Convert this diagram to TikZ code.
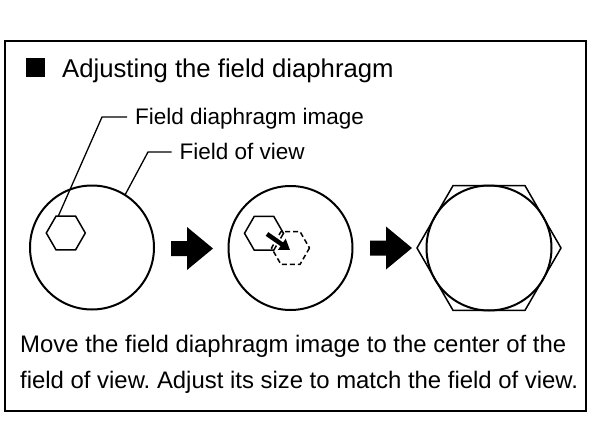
\documentclass[tikz,border=0pt]{standalone}
\usepackage{fontspec}
\setmainfont{Liberation Sans}
\usetikzlibrary{arrows.meta}
\frenchspacing
\tikzset{
  frame/.style={line width=1.8pt},
  fov/.style={line width=2pt},
  hexline/.style={line width=1.5pt, line join=miter},
  leader/.style={line width=1.3pt},
  titletext/.style={anchor=base west, inner sep=0pt, font=\fontsize{25.7}{30}\selectfont},
  labeltext/.style={anchor=base west, inner sep=0pt, font=\fontsize{22.5}{27}\selectfont},
  bodytext/.style={anchor=base west, inner sep=0pt, font=\fontsize{23.9}{29}\selectfont},
  pics/bigarrow/.style={code={
    \fill (0,-7.5) -- (16,-7.5) -- (16,-21.5) -- (42,0) -- (16,21.5) -- (16,7.5) -- (0,7.5) -- cycle;
  }}
}
\begin{document}
\begin{tikzpicture}[x=1pt,y=-1pt]
\useasboundingbox (0,0) rectangle (592,444);
\fill[white] (0,0) rectangle (592,444);
% frame
\draw[frame] (5,41) rectangle (586,411);
% title
\fill (26,58) rectangle (45,77);
\node[titletext] (title) at (62,77.5) {Adjusting the field diaphragm};
% labels
\node[labeltext] (lblimg) at (135,124.5) {Field diaphragm image};
\node[labeltext] (lblfov) at (179.5,159.5) {Field of view};
% centers
\coordinate (c1) at (92,247.5);
\coordinate (c2) at (290.5,248);
\coordinate (c3) at (489,248);
\coordinate (h1) at (65.8,233);
\coordinate (h2) at (264,233.3);
% circles
\node[fov, draw, circle, minimum size=124pt, inner sep=0pt] (fov1) at (c1) {};
\node[fov, draw, circle, minimum size=124pt, inner sep=0pt] (fov2) at (c2) {};
\node[fov, draw, circle, minimum size=125pt, inner sep=0pt] (fov3) at (c3) {};
% hexagons
\draw[hexline] (h1) ++(19.5,0) -- ++(-9.75,16.9) -- ++(-19.5,0) -- ++(-9.75,-16.9) -- ++(9.75,-16.9) -- ++(19.5,0) -- cycle;
\coordinate (h1top) at (58.3,216.1);
\draw[hexline] (h2) ++(19.5,0) -- ++(-9.75,16.9) -- ++(-19.5,0) -- ++(-9.75,-16.9) -- ++(9.75,-16.9) -- ++(19.5,0) -- cycle;
\draw[hexline, dash pattern=on 5pt off 3pt] (c2) ++(19,0) -- ++(-9.5,16.45) -- ++(-19,0) -- ++(-9.5,-16.45) -- ++(9.5,-16.45) -- ++(19,0) -- cycle;
\draw[hexline] (c3) ++(72,0) -- ++(-36,62.35) -- ++(-72,0) -- ++(-36,-62.35) -- ++(36,-62.35) -- ++(72,0) -- cycle;
% leaders
\coordinate (k1) at (102,117);
\coordinate (k2) at (148,152);
\coordinate (fovpt) at (125,195);
\draw[leader] (lblimg.west |- k1) ++(-8,0) -- (k1) -- (h1top);
\draw[leader] (lblfov.west |- k2) ++(-8,0) -- (k2) -- (fovpt);
% big arrows
\pic at (171,248.5) {bigarrow};
\pic at (370,248) {bigarrow};
% small move arrow
\coordinate (ma) at (267,234);
\coordinate (mb) at (290,250);
\draw[white, line width=8pt, shorten >=-2pt] (ma) -- (mb);
\draw[line width=4.5pt, -{Triangle[length=10pt,width=13pt]}] (ma) -- (mb);
% bottom text
\node[bodytext] (body1) at (20,352) {Move the field diaphragm image to the center of the};
\node[bodytext] (body2) at (20,388) {field of view. Adjust its size to match the field of view.};
\end{tikzpicture}
\end{document}
